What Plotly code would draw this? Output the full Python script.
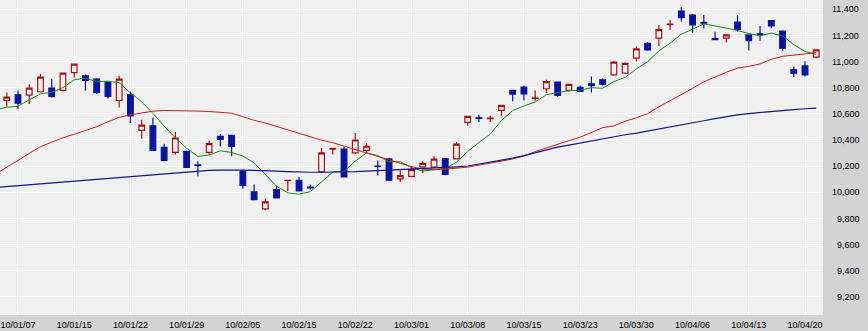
import plotly.graph_objects as go

dates = ["10/01/05", "10/01/06", "10/01/07", "10/01/08", "10/01/12", "10/01/13", "10/01/14", "10/01/15",
         "10/01/18", "10/01/19", "10/01/20", "10/01/21", "10/01/22", "10/01/25", "10/01/26", "10/01/27",
         "10/01/28", "10/01/29", "10/02/01", "10/02/02", "10/02/03", "10/02/04", "10/02/05", "10/02/08",
         "10/02/09", "10/02/10", "10/02/12", "10/02/15", "10/02/16", "10/02/17", "10/02/18", "10/02/19",
         "10/02/22", "10/02/23", "10/02/24", "10/02/25", "10/02/26", "10/03/01", "10/03/02", "10/03/03",
         "10/03/04", "10/03/05", "10/03/08", "10/03/09", "10/03/10", "10/03/11", "10/03/12", "10/03/15",
         "10/03/16", "10/03/17", "10/03/18", "10/03/19", "10/03/23", "10/03/24", "10/03/25", "10/03/26",
         "10/03/29", "10/03/30", "10/03/31", "10/04/01", "10/04/02", "10/04/05", "10/04/06", "10/04/07",
         "10/04/08", "10/04/09", "10/04/12", "10/04/13", "10/04/14", "10/04/15", "10/04/16", "10/04/19",
         "10/04/20", "10/04/21"]

open_ = [10720, 10702, 10746, 10743, 10769, 10797, 10779, 10916, 10891, 10866, 10840, 10702, 10746, 10473,
         10509, 10343, 10305, 10313, 10210, 10305, 10427, 10435, 10160, 10003, 9873, 10021, 10088, 10092,
         10040, 10156, 10330, 10331, 10301, 10320, 10200, 10255, 10102, 10122, 10194, 10193, 10257, 10255,
         10534, 10570, 10563, 10627, 10779, 10805, 10718, 10792, 10843, 10780, 10802, 10830, 10860, 10898,
         10911, 11026, 11140, 11179, 11283, 11387, 11356, 11300, 11175, 11179, 11301, 11204, 11212, 11313,
         11234, 10937, 10967, 11034]
high = [10760, 10763, 10779, 10827, 10906, 10868, 10916, 10982, 10901, 10873, 10853, 10891, 10771, 10555,
        10572, 10372, 10461, 10318, 10237, 10395, 10446, 10440, 10173, 10059, 9952, 10046, 10095, 10118,
        10059, 10339, 10339, 10351, 10453, 10377, 10243, 10263, 10168, 10198, 10237, 10275, 10263, 10385,
        10582, 10593, 10585, 10669, 10781, 10817, 10779, 10860, 10847, 10827, 10817, 10886, 10873, 11005,
        10992, 11115, 11148, 11280, 11318, 11415, 11364, 11356, 11229, 11211, 11356, 11206, 11273, 11318,
        11236, 10962, 11005, 11090]
low = [10660, 10656, 10639, 10675, 10763, 10725, 10771, 10878, 10776, 10751, 10718, 10649, 10530, 10410,
       10318, 10240, 10288, 10186, 10122, 10288, 10351, 10275, 10029, 9937, 9862, 9952, 10008, 10008,
       10021, 10148, 10288, 10115, 10293, 10301, 10128, 10090, 10077, 10114, 10148, 10186, 10130, 10250,
       10509, 10537, 10537, 10585, 10696, 10702, 10700, 10759, 10728, 10771, 10767, 10763, 10817, 10891,
       10906, 11000, 11082, 11120, 11242, 11305, 11217, 11255, 11166, 11145, 11229, 11084, 11160, 11255,
       11084, 10881, 10885, 11026]
close = [10682, 10728, 10682, 10797, 10881, 10733, 10911, 10980, 10855, 10763, 10733, 10866, 10585, 10514,
         10321, 10244, 10415, 10191, 10205, 10372, 10404, 10351, 10053, 9944, 9927, 9957, 10092, 10010,
         10034, 10301, 10336, 10117, 10400, 10352, 10198, 10092, 10127, 10173, 10220, 10253, 10136, 10369,
         10580, 10566, 10567, 10665, 10751, 10752, 10722, 10847, 10741, 10825, 10772, 10815, 10827, 10996,
         10986, 11097, 11089, 11244, 11286, 11336, 11280, 11293, 11168, 11204, 11247, 11160, 11204, 11273,
         11102, 10911, 10898, 11090]

ma_short = [10631, 10650, 10659, 10709, 10754, 10764, 10801, 10860, 10872, 10848, 10848, 10839, 10760, 10692,
            10604, 10506, 10416, 10337, 10275, 10285, 10317, 10305, 10277, 10225, 10136, 10046, 9995, 9986,
            10004, 10079, 10155, 10160, 10238, 10301, 10281, 10232, 10234, 10188, 10162, 10173, 10182, 10230,
            10312, 10381, 10444, 10549, 10626, 10660, 10691, 10747, 10763, 10777, 10781, 10800, 10796, 10847,
            10879, 10944, 10999, 11082, 11140, 11210, 11247, 11288, 11273, 11256, 11238, 11214, 11197, 11218,
            11197, 11130, 11078, 11055]
ma_mid = [10139, 10192, 10243, 10295, 10349, 10383, 10417, 10444, 10471, 10501, 10540, 10573, 10593, 10608,
          10620, 10626, 10626, 10624, 10621, 10618, 10612, 10605, 10578, 10551, 10530, 10505, 10479, 10452,
          10425, 10398, 10379, 10353, 10326, 10299, 10276, 10246, 10219, 10196, 10177, 10173, 10177, 10182,
          10192, 10208, 10221, 10238, 10255, 10278, 10311, 10341, 10368, 10395, 10421, 10460, 10494, 10508,
          10543, 10570, 10601, 10654, 10700, 10750, 10795, 10845, 10883, 10918, 10950, 10963, 10982, 11017,
          11040, 11051, 11059, 11068]
ma_long = [10036, 10043, 10051, 10057, 10064, 10072, 10079, 10085, 10092, 10099, 10106, 10114, 10121, 10129,
           10137, 10143, 10150, 10158, 10163, 10167, 10169, 10171, 10169, 10167, 10166, 10162, 10158, 10154,
           10153, 10153, 10153, 10155, 10158, 10162, 10166, 10169, 10172, 10175, 10179, 10185, 10190, 10195,
           10201, 10215, 10230, 10246, 10261, 10280, 10303, 10326, 10345, 10360, 10376, 10395, 10410, 10425,
           10440, 10452, 10467, 10482, 10498, 10513, 10530, 10547, 10563, 10578, 10592, 10602, 10611, 10618,
           10627, 10633, 10639, 10644]

x_ticks = ["10/01/07", "10/01/15", "10/01/22", "10/01/29", "10/02/05", "10/02/15", "10/02/22", "10/03/01",
           "10/03/08", "10/03/15", "10/03/23", "10/03/30", "10/04/06", "10/04/13", "10/04/20"]
y_ticks = [9200, 9400, 9600, 9800, 10000, 10200, 10400, 10600, 10800, 11000, 11200, 11400]
y_labels = [("\u2007" if v < 10000 else "") + f"{v:,}" for v in y_ticks]

UP = "#a51414"
DOWN = "#0a1496"
BG = "#f0f0f0"

fig = go.Figure()
fig.add_trace(go.Candlestick(
    x=dates, open=open_, high=high, low=low, close=close,
    increasing=dict(line=dict(color=UP, width=1.2), fillcolor=BG),
    decreasing=dict(line=dict(color=DOWN, width=1.2), fillcolor=DOWN),
    whiskerwidth=0, showlegend=False, hoverinfo="skip"))
fig.add_trace(go.Scatter(x=dates, y=ma_short, mode="lines", line=dict(color="#1a8c1a", width=1),
                         showlegend=False, hoverinfo="skip"))
fig.add_trace(go.Scatter(x=dates, y=ma_mid, mode="lines", line=dict(color="#cc1c1c", width=1),
                         showlegend=False, hoverinfo="skip"))
fig.add_trace(go.Scatter(x=dates, y=ma_long, mode="lines", line=dict(color="#14148c", width=1.2),
                         showlegend=False, hoverinfo="skip"))

font = dict(family="Liberation Sans, Arial, sans-serif", size=9, color="#000000")
fig.update_layout(
    width=868, height=331,
    margin=dict(l=0, r=45, t=0, b=16),
    paper_bgcolor="#d3d3d3", plot_bgcolor=BG,
    font=font,
    boxgap=0.28,
    xaxis=dict(type="category", range=[0.4, 73.6], tickmode="array", tickvals=x_ticks, ticktext=x_ticks,
               showgrid=True, gridcolor="#ffffff", gridwidth=1, ticks="", zeroline=False, showline=False,
               rangeslider=dict(visible=False), tickfont=font, fixedrange=True, ticklabelstandoff=3),
    yaxis=dict(side="right", range=[9061, 11471], tickmode="array", tickvals=y_ticks, ticktext=y_labels,
               showgrid=True, gridcolor="#ffffff", gridwidth=1, ticks="", zeroline=False, showline=False,
               tickfont=font, fixedrange=True, ticklabelstandoff=8),
)

fig.write_html("out.html", config={"displayModeBar": False})
